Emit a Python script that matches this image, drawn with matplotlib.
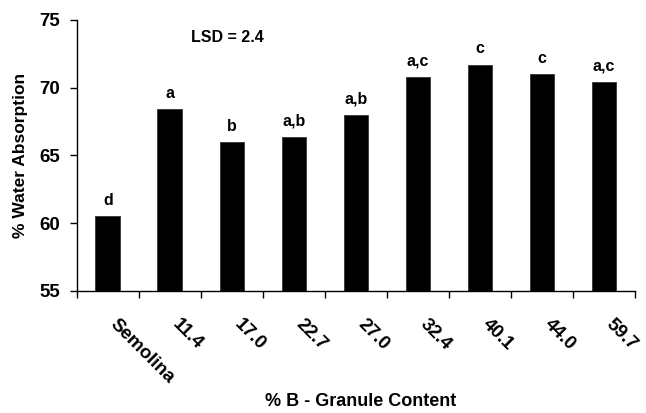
import numpy as np
import matplotlib.pyplot as plt
import matplotlib.transforms as mtransforms

# values
categories = ['Semolina', '11.4', '17.0', '22.7', '27.0', '32.4', '40.1', '44.0', '59.7']
absorption = [60.5, 68.4, 66.0, 66.4, 68.0, 70.8, 71.7, 71.0, 70.4]
groups = ['d', 'a', 'b', 'a,b', 'a,b', 'a,c', 'c', 'c', 'a,c']
lsd_text = 'LSD = 2.4'

plt.rcParams['font.family'] = ['Liberation Sans', 'DejaVu Sans']
plt.rcParams['font.weight'] = 'bold'

fig = plt.figure(figsize=(6.46, 4.13), dpi=100)
ax = fig.add_axes([0.119, 0.2954, 0.864, 0.6562])

x = np.arange(len(categories))
ax.bar(x, absorption, width=0.4, color='black', edgecolor='#333333', linewidth=0.6)

# significance letters above the bars
for xi, val, g in zip(x, absorption, groups):
    ax.annotate(g, (xi, val), xytext=(0, 6), textcoords='offset points',
                ha='center', va='bottom', fontsize=11.5, fontweight='bold')

ax.text(0.269, 0.935, lsd_text, transform=ax.transAxes, ha='center', va='center',
        fontsize=11.5, fontweight='bold')

ax.set_xlim(-0.5, len(categories) - 0.5)
ax.set_ylim(55, 75)
ax.set_yticks([55, 60, 65, 70, 75])
ax.tick_params(axis='y', length=5, width=1, pad=7, labelsize=13.5)

# labels at the bar centres, tick marks between the bars
ax.set_xticks(x)
ax.set_xticks(np.arange(len(categories) + 1) - 0.5, minor=True)
ax.tick_params(axis='x', which='major', length=0, pad=18, labelsize=13.5)
ax.tick_params(axis='x', which='minor', length=5, width=1, direction='out')
ax.set_xticklabels(categories, rotation=-45, ha='left', va='top',
                   rotation_mode='anchor', fontweight='bold')
offset = mtransforms.ScaledTranslation(11 / 100, 0, fig.dpi_scale_trans)
for lab in ax.get_xticklabels():
    lab.set_transform(lab.get_transform() + offset)
for lab in ax.get_yticklabels():
    lab.set_fontweight('bold')

ax.spines['top'].set_visible(False)
ax.spines['right'].set_visible(False)
ax.spines['left'].set_linewidth(1)
ax.spines['bottom'].set_linewidth(1)

fig.text(21 / 646, 1 - 155 / 413, '% Water Absorption', rotation=90,
         ha='center', va='center', fontsize=12.5, fontweight='bold')
fig.text(361 / 646, 0.027, '% B - Granule Content', ha='center', va='center',
         fontsize=13, fontweight='bold')

fig.savefig('out.png', dpi=100)
